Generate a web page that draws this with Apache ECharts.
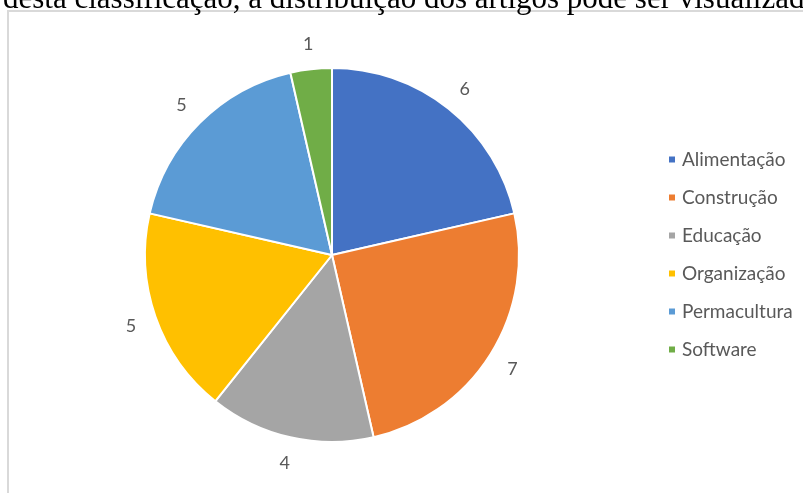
<!DOCTYPE html>
<html>
<head>
<meta charset="utf-8">
<script src="https://cdn.jsdelivr.net/npm/echarts@6/dist/echarts.min.js"></script>
<style>
html,body{margin:0;padding:0;background:#fff;}
#chart{width:803px;height:493px;}
</style>
</head>
<body>
<div id="chart"></div>
<script>
const categories = ['Alimentação', 'Construção', 'Educação', 'Organização', 'Permacultura', 'Software'];
const values = [6, 7, 4, 5, 5, 1];
const colors = ['#4472C4', '#ED7D31', '#A5A5A5', '#FFC000', '#5B9BD5', '#70AD47'];
const headingText = 'desta classificação, a distribuição dos artigos pode ser visualizada na figura';

const data = categories.map((c, i) => ({ name: c, value: values[i] }));
const chart = echarts.init(document.getElementById('chart'));
chart.setOption({
  animation: false,
  color: colors,
  title: {
    text: headingText,
    left: -2,
    top: -21,
    textStyle: { fontFamily: 'Liberation Serif', fontSize: 31, fontWeight: 'normal', color: '#000' }
  },
  graphic: [{
    type: 'rect',
    shape: { x: 8, y: 11, width: 820, height: 520 },
    style: { fill: 'none', stroke: '#d9d9d9', lineWidth: 2 },
    silent: true,
    z: -1
  }],
  legend: {
    orient: 'vertical',
    left: 662,
    top: 145,
    itemWidth: 8,
    itemHeight: 8,
    itemGap: 19,
    icon: 'rect',
    data: categories,
    textStyle: { fontFamily: 'Lato', fontSize: 19, color: '#595959', padding: [0, 0, 0, 1] }
  },
  series: [{
    type: 'pie',
    center: [332, 255],
    radius: [0, 187],
    startAngle: 90,
    clockwise: true,
    data: data,
    label: { show: false },
    labelLine: { show: false },
    itemStyle: { borderColor: '#fff', borderWidth: 2 },
    emphasis: { disabled: true }
  }, {
    type: 'pie',
    center: [332, 256],
    radius: [199, 221],
    startAngle: 90,
    clockwise: true,
    silent: true,
    data: data,
    itemStyle: { color: 'rgba(0,0,0,0)' },
    label: {
      show: true,
      position: 'inside',
      formatter: '{c}',
      fontFamily: 'Lato',
      fontSize: 18,
      color: '#595959'
    },
    labelLine: { show: false },
    emphasis: { disabled: true }
  }]
});
</script>
</body>
</html>
